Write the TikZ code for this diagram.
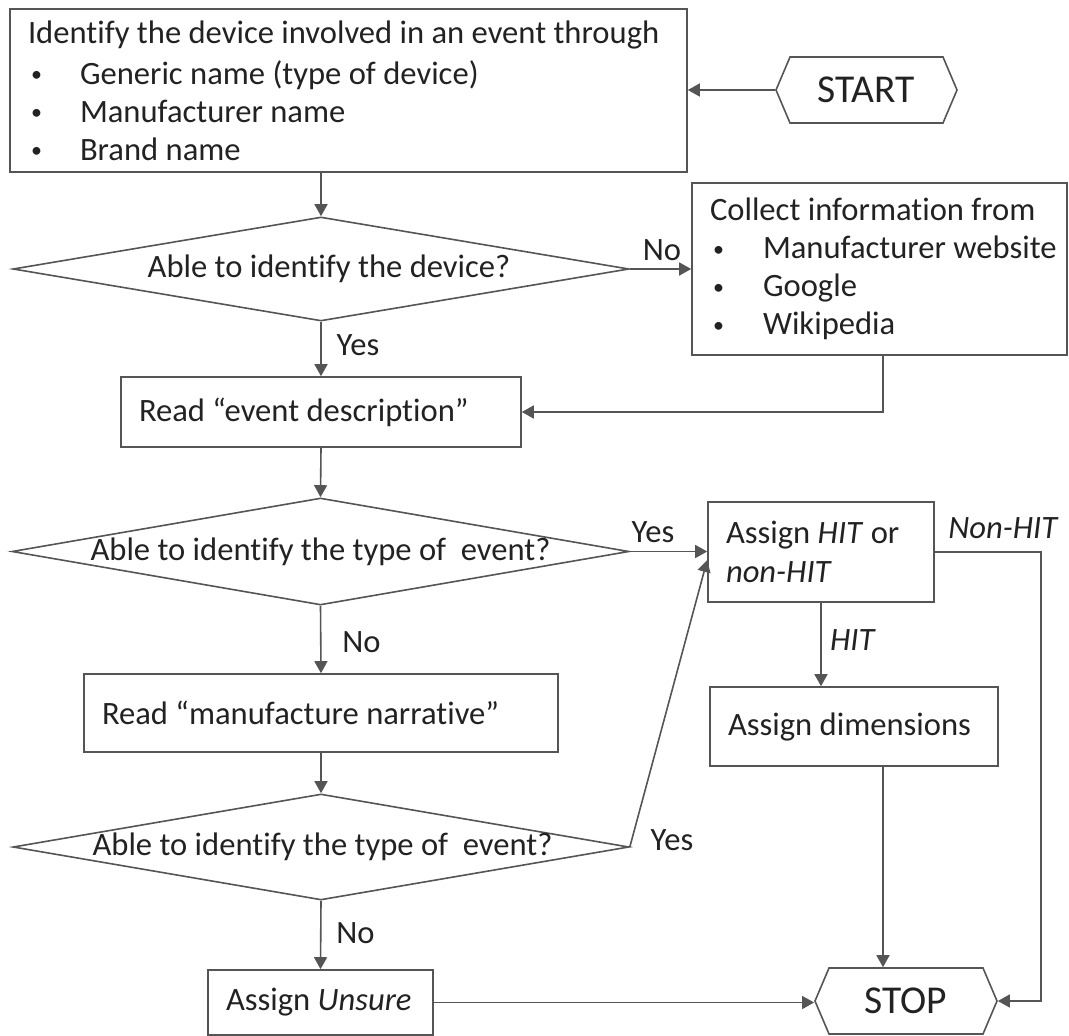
\documentclass[tikz,border=0pt]{standalone}
\usepackage{fontspec}
\setmainfont{Carlito}[Ligatures=NoCommon]
\usetikzlibrary{shapes.geometric,shapes.symbols,arrows.meta}

\definecolor{linec}{HTML}{555555}
\definecolor{textc}{HTML}{222222}
\newcommand\mainfs{\fontsize{32.6}{38}\selectfont}
\newcommand\termfs{\fontsize{39.5}{44}\selectfont}
% bullet line: small dot, tab, then the item text kept on one line
\newcommand\bitem[2]{\mbox{\makebox[#1][l]{\hspace{3pt}\raisebox{2.5pt}{\fontsize{22}{22}\selectfont•}}#2}}

\tikzset{
  x=1pt, y=-1pt,
  flow/.style={draw=linec, line width=1.6pt},
  box/.style={flow, rectangle, align=left, inner xsep=18pt, inner ysep=0pt,
    font=\mainfs, text=textc,
    execute at begin node={\spaceskip=0pt\xspaceskip=0pt}},
  decision/.style={flow, diamond, inner sep=0pt, font=\mainfs, text=textc},
  terminal/.style={flow, signal, signal to=west and east,
    signal pointer angle=134, inner sep=0pt, font=\termfs, text=textc},
  arr/.style={draw=linec, line width=1.6pt, -{Triangle[length=12pt,width=13pt]}},
  lbl/.style={font=\mainfs, text=textc, inner sep=0pt},
}

\begin{document}
\begin{tikzpicture}
\useasboundingbox (0,0) rectangle (1069,1036);

% process boxes
\node[box, minimum width=677, minimum height=163, text width=641pt] (top) at (348.5,90.5)
  {\mbox{Identify the device involved in an event through}\\[3pt]
   \bitem{52pt}{Generic name (type of device)}\\
   \bitem{52pt}{Manufacturer name}\\
   \bitem{52pt}{Brand name}};
\node[terminal, minimum width=181, minimum height=66] (start) at (866.5,90) {START};

\node[box, minimum width=375, minimum height=172, text width=339pt] (collect) at (879.5,269)
  {\mbox{Collect information from}\\
   \bitem{53pt}{Manufacturer website}\\
   \bitem{53pt}{Google}\\
   \bitem{53pt}{Wikipedia}};

\node[decision, minimum width=616, minimum height=104] (d1) at (321,269)
  {\makebox[0pt]{\hspace{16pt}Able to identify the device?}};

\node[box, minimum width=400, minimum height=70, text width=364pt] (read) at (321,412)
  {Read “event description”};

\node[decision, minimum width=617, minimum height=107] (d2) at (320.5,551.5)
  {\makebox[0pt]{Able to identify the type of\ \ event?}};

\node[box, minimum width=472, minimum height=78, text width=438pt] (narr) at (321,713)
  {Read “manufacture narrative”};

\node[decision, minimum width=616, minimum height=106] (d3) at (321,847)
  {\makebox[0pt]{\hspace{3pt}Able to identify the type of\ \ event?}};

\node[box, minimum width=225, minimum height=65, text width=189pt] (unsure) at (320.5,1002.5)
  {\mbox{Assign \textit{Unsure}}};

\node[box, minimum width=224, minimum height=100, text width=190pt] (hit) at (821,552)
  {\mbox{Assign \textit{HIT} or}\\[1pt] \textit{non-HIT}};

\node[box, minimum width=286, minimum height=79, text width=252pt] (dims) at (854,726.5)
  {\mbox{Assign dimensions}};

\node[terminal, minimum width=182, minimum height=66] (stop) at (906,1001) {STOP};

% connectors
\draw[arr] (start.west) -- (start.west -| top.east);
\draw[arr] (top.south -| d1.north) -- (d1.north);
\draw[arr] (d1.east) -- (d1.east -| collect.west);
\draw[arr] (d1.south) -- (read.north);
\draw[arr] ([xshift=3.5pt]collect.south) |- (read.east);
\draw[arr] (read.south) -- (d2.north);
\draw[arr] (d2.east) -- (d2.east -| hit.west);
\draw[arr] (d2.south) -- (narr.north);
\draw[arr] (narr.south) -- (d3.north);
\draw[arr] (d3.east) -- ([yshift=-8pt]hit.west);
\draw[arr] (d3.south) -- (unsure.north);
\draw[arr] (unsure.east) -- (unsure.east -| stop.west);
\draw[arr] (hit.south) -- (hit.south |- dims.north);
\draw[arr] ([xshift=29pt]dims.south) -- ([xshift=29pt]dims.south |- stop.north);
\coordinate (nhcorner) at ([xshift=106pt]hit.east);
\draw[arr] (hit.east) -- (nhcorner) |- (stop.east);

% branch labels
\node[lbl] (no1) at (662,250) {No};
\node[lbl] (yes1) at (358,345) {Yes};
\node[lbl] (yes2) at (653,532) {Yes};
\node[lbl] (no2) at (361.5,642) {No};
\node[lbl] (yes3) at (672,840) {Yes};
\node[lbl] (no3) at (355.5,933) {No};
\node[lbl] (hitlbl) at (853,640) {\textit{HIT}};
\node[lbl] (nonhit) at (1003.5,528) {\textit{Non-HIT}};
\end{tikzpicture}
\end{document}
